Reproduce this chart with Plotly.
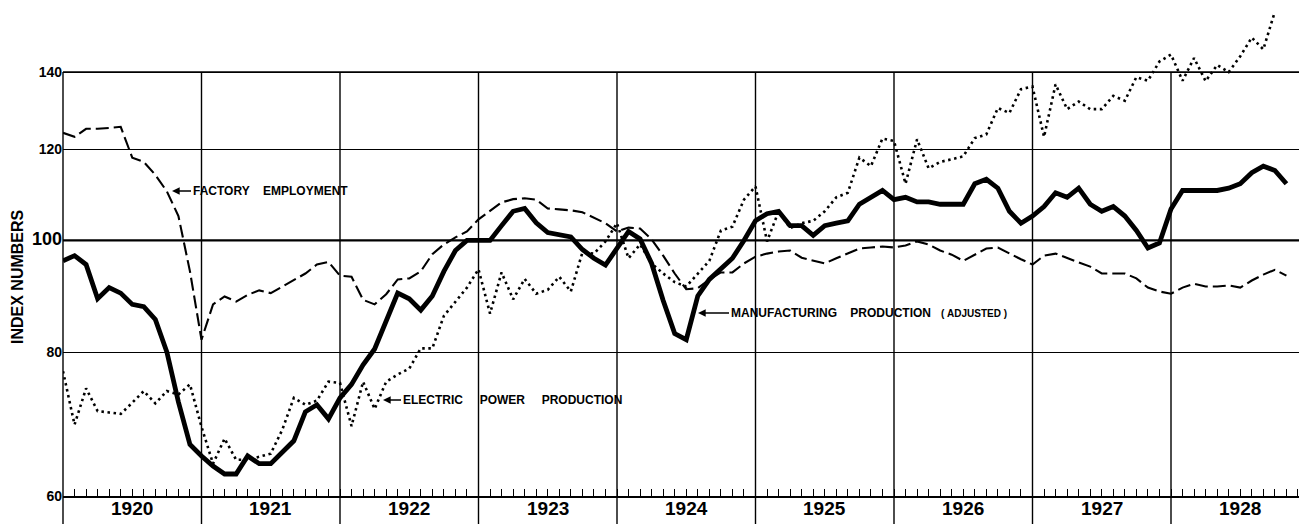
import numpy as np
import plotly.graph_objects as go

# ---------------- data (monthly index numbers, Jan 1920 onward) ----------------
START_YEAR = 1920
year_labels = ["1920", "1921", "1922", "1923", "1924", "1925", "1926", "1927", "1928"]
y_ticks = [60, 80, 100, 120, 140]

manufacturing = [
    96, 97, 95.3, 89, 91, 90, 88, 87.6, 85.4, 80, 72.4, 66.5,            # 1920
    65, 63.7, 62.7, 62.7, 65, 64, 64, 65.5, 67, 71, 72, 70,              # 1921
    73, 75, 78, 80.5, 85, 90, 89, 87, 89.5, 94, 98, 100,                 # 1922
    100, 100, 103, 106, 106.6, 103.6, 101.6, 101.1, 100.7, 98.2, 96.5, 95.2,  # 1923
    98.4, 101.8, 100.3, 95.5, 88.7, 83, 82, 89.5, 92.5, 94.5, 96.5, 100,  # 1924
    104, 105.5, 106, 103, 103, 101, 103, 103.5, 104, 107.5, 109, 110.5,  # 1925
    108.5, 109, 108, 108, 107.5, 107.5, 107.5, 112, 113, 111, 106, 103.5,  # 1926
    105, 107, 110, 109, 111, 107.5, 106, 107, 105, 102, 98.5, 99.5,      # 1927
    106.5, 110.5, 110.5, 110.5, 110.5, 111, 112, 114.5, 116, 115, 112,   # 1928
]

factory = [
    124, 123, 125, 125, 125.2, 125.5, 118, 117, 114, 110.3, 105, 94,     # 1920
    82, 88, 89.4, 88.5, 89.7, 90.5, 90, 91.2, 92.5, 93.6, 95.3, 95.8,    # 1921
    93.2, 93, 88.8, 88, 89.8, 92.5, 92.7, 94, 97.3, 99.2, 100.6, 101.8,  # 1922
    104.3, 106, 107.9, 108.6, 108.8, 108.5, 106.6, 106.4, 106.2, 105.8, 104.7, 103.5,  # 1923
    101.8, 102.6, 102.4, 100.2, 97, 93.6, 90.7, 90.9, 92.5, 93.8, 93.8, 95.5,  # 1924
    96.8, 97.4, 97.8, 98, 96.6, 96, 95.5, 96.5, 97.4, 98.4, 98.6, 98.8,  # 1925
    98.6, 99, 99.8, 99.2, 98, 97.2, 96, 97.2, 98.4, 98.6, 97.4, 96.3,    # 1926
    95.3, 97, 97.4, 96.5, 95.7, 94.9, 93.6, 93.6, 93.6, 92.7, 91, 90.3,  # 1927
    89.9, 91, 91.7, 91.2, 91.2, 91.4, 91, 92.3, 93.4, 94.3, 93.2,        # 1928
]

electric = [
    77, 69.2, 74.4, 71.1, 70.9, 70.7, 72.3, 74, 72.2, 74, 73.5, 75,      # 1920
    68.9, 64, 67.3, 64.5, 64.5, 64.9, 65.3, 68.5, 73, 72, 72.6, 75.4,    # 1921
    75.2, 69, 75.4, 71.4, 75.4, 76.5, 77.4, 80.6, 80.6, 86, 88.5, 91,    # 1922
    94.4, 86.4, 93.8, 88.9, 92.6, 89.9, 90.6, 93, 90.3, 97.6, 97.4, 99.8,  # 1923
    103.5, 96.5, 99.2, 95.5, 93.6, 92, 91.2, 93.6, 96, 102, 102.8, 108.5,  # 1924
    111.4, 99.8, 106, 102.5, 103.5, 104, 106, 109, 110, 118, 116, 122.6,  # 1925
    122, 112, 122.4, 115.5, 117, 117.6, 118.3, 122.7, 123.6, 130.3, 129, 135.3,  # 1926
    136, 123, 136.6, 130, 132, 130, 130, 133.5, 132.2, 138.6, 137.6, 143,  # 1927
    145, 137.6, 144, 137.5, 142, 140, 144.5, 150, 146.5, 158,           # 1928
]

# ---------------- geometry helpers ----------------
W, H = 1299, 524
M_L, M_B = 63, 28
PLOT_W, PLOT_H = W - M_L, H - M_B
YEAR_PX = 138.5
X0 = START_YEAR
X1 = START_YEAR + PLOT_W / YEAR_PX
Y_LO, Y_HI = np.log10(60), np.log10(161.7)


def month_x(n):
    return [START_YEAR + i / 12 for i in range(n)]


def xpaper(x):
    return (x - X0) / (X1 - X0)


def ypaper(v):
    return (np.log10(v) - Y_LO) / (Y_HI - Y_LO)


FONT = "Liberation Sans"
fig = go.Figure()

fig.add_trace(go.Scatter(
    x=month_x(len(electric)), y=electric, mode="lines",
    line=dict(color="black", width=2.6, dash="2.5px,3.6px"),
    name="Electric power production", showlegend=False, hoverinfo="skip"))
fig.add_trace(go.Scatter(
    x=month_x(len(factory)), y=factory, mode="lines",
    line=dict(color="black", width=2.1, dash="13px,5px"),
    name="Factory employment", showlegend=False, hoverinfo="skip"))
fig.add_trace(go.Scatter(
    x=month_x(len(manufacturing)), y=manufacturing, mode="lines",
    line=dict(color="black", width=4.8),
    name="Manufacturing production (adjusted)", showlegend=False, hoverinfo="skip"))

# ---------------- frame / grid shapes ----------------
shapes = []
n_years = len(year_labels)
for k in range(n_years):
    xp = xpaper(START_YEAR + k)
    shapes.append(dict(type="line", xref="paper", yref="paper", x0=xp, x1=xp,
                       y0=-0.06, y1=ypaper(140), line=dict(color="black", width=1.4),
                       layer="above"))
# heavier 100 line and 140 line
shapes.append(dict(type="line", xref="paper", yref="paper", x0=0, x1=1,
                   y0=ypaper(100), y1=ypaper(100), line=dict(color="black", width=2.2)))
shapes.append(dict(type="line", xref="paper", yref="paper", x0=0, x1=1,
                   y0=ypaper(140), y1=ypaper(140), line=dict(color="black", width=1.7)))

# ---------------- annotations ----------------
NB = "\u00a0"
ann = []
for k, lab in enumerate(year_labels):
    ann.append(dict(text=f"<b>{lab}</b>", xref="x", yref="paper", x=START_YEAR + k + 0.5,
                    y=-13 / PLOT_H, yanchor="middle", xanchor="center", showarrow=False,
                    font=dict(family=FONT, size=19, color="black")))

ann.append(dict(text=f"<b>INDEX{NB}NUMBERS</b>", xref="paper", yref="paper",
                x=(17 - M_L) / PLOT_W, y=1 - 277 / PLOT_H, textangle=-90,
                showarrow=False, xanchor="center", yanchor="middle",
                font=dict(family=FONT, size=16, color="black")))


def label(text, tip_px, length):
    px, py = tip_px
    return dict(text=text, xref="paper", yref="paper",
                x=(px - M_L) / PLOT_W, y=1 - py / PLOT_H,
                showarrow=True, ax=length, ay=0, axref="pixel", ayref="pixel",
                xanchor="left", yanchor="middle", standoff=0, startstandoff=0,
                arrowhead=2, arrowsize=1.1, arrowwidth=1.4, arrowcolor="black",
                font=dict(family=FONT, size=12, color="black"))


ann.append(label(f"<b>FACTORY{NB*4}EMPLOYMENT</b>", (172, 191), 19))
ann.append(label(f"<b>ELECTRIC{NB*5}POWER{NB*5}PRODUCTION</b>", (383, 400), 18))
ann.append(label(f"<b>MANUFACTURING{NB*4}PRODUCTION{NB*3}"
                 f"<span style=\"font-size:10px\">({NB}ADJUSTED{NB})</span></b>", (698, 313), 31))

quarters = [START_YEAR + q / 4 for q in range(4 * n_years)]
months = [START_YEAR + m / 12 for m in range(12 * n_years)]

tick_text = [f"<b>{v}</b>" if v != 100 else f"<b><span style=\"font-size:18px\">{v}</span></b>"
             for v in y_ticks]

fig.update_layout(
    width=W, height=H, autosize=False,
    margin=dict(l=M_L, r=0, t=0, b=M_B, pad=0),
    paper_bgcolor="white", plot_bgcolor="white",
    showlegend=False,
    shapes=shapes, annotations=ann,
    xaxis=dict(range=[X0, X1], showgrid=False, zeroline=False,
               showline=True, linecolor="black", linewidth=2,
               tickmode="array", tickvals=quarters, ticktext=[""] * len(quarters),
               ticks="inside", ticklen=12, tickwidth=1.3, tickcolor="black",
               minor=dict(tickmode="array", tickvals=months, ticks="inside",
                          ticklen=7, tickwidth=1.2, tickcolor="black", showgrid=False),
               fixedrange=True),
    yaxis=dict(type="log", range=[Y_LO, Y_HI], tickmode="array",
               tickvals=y_ticks, ticktext=tick_text, ticks="",
               showgrid=True, gridcolor="black", gridwidth=1.3,
               zeroline=False, showline=False,
               tickfont=dict(family=FONT, size=14, color="black"),
               fixedrange=True),
)

fig.write_html(
    "out.html",
    config={"displayModeBar": False},
    post_script="document.body.style.margin='0';document.body.style.overflow='hidden';",
)
